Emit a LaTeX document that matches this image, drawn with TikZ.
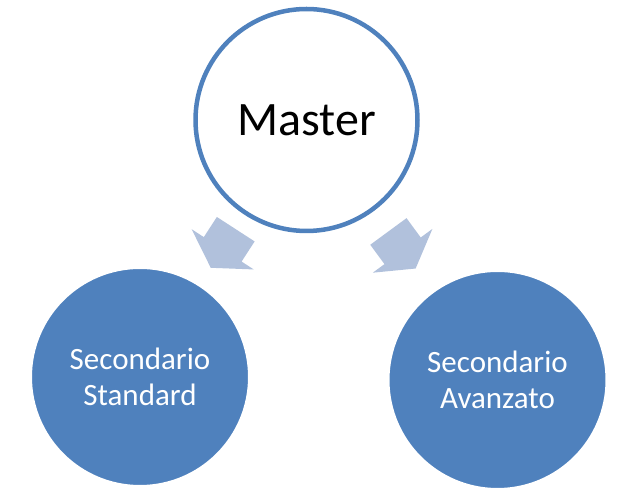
\documentclass[tikz,border=0pt]{standalone}
\usepackage{fontspec}
\setmainfont{Carlito}
\usepackage{xcolor}
\usetikzlibrary{
	calc,
	positioning,
	shadows,
	}

\definecolor{officeblue}{RGB}{79,129,189}
\definecolor{arrowblue}{RGB}{177,193,220}

\tikzset{
	master/.style={draw=officeblue, line width=4.5pt, circle, fill=white,
		minimum size=222pt, inner sep=0pt, font=\fontsize{48}{56}\selectfont},
	secondary/.style={draw=white, line width=7pt, circle, fill=officeblue,
		minimum size=223pt, inner sep=0pt, text=white, align=center,
		font=\fontsize{31}{36}\selectfont,
		drop shadow={shadow xshift=0pt, shadow yshift=-2pt, fill=black!25, opacity=0.35}},
	arrowfill/.style={fill=arrowblue},
}

% block arrow half way between two nodes
\newcommand{\flowarrow}[2]{%
	\coordinate (mid) at ($(#1)!0.5!(#2)$);
	\coordinate (tail) at ($(mid)!23pt!(#1)$);
	\coordinate (tip) at ($(mid)!23pt!(#2)$);
	\coordinate (neck) at ($(tail)!24pt!(tip)$);
	\fill[arrowfill] ($(tail)!22.5pt!90:(tip)$) -- ($(neck)!22.5pt!90:(tip)$)
		-- ($(neck)!37pt!90:(tip)$) -- (tip) -- ($(neck)!37pt!-90:(tip)$)
		-- ($(neck)!22.5pt!-90:(tip)$) -- ($(tail)!22.5pt!-90:(tip)$) -- cycle;
}

\begin{document}
\begin{tikzpicture}[x=1pt, y=1pt]
	\useasboundingbox (0,0) rectangle (619,495);
	\node[master] (master) at (306.5,375) {Master};
	\node[secondary] (std) at (140,118) {Secondario\\Standard};
	\node[secondary] (adv) at (497.5,115) {Secondario\\Avanzato};
	\flowarrow{master}{std}
	\flowarrow{master}{adv}
\end{tikzpicture}
\end{document}
